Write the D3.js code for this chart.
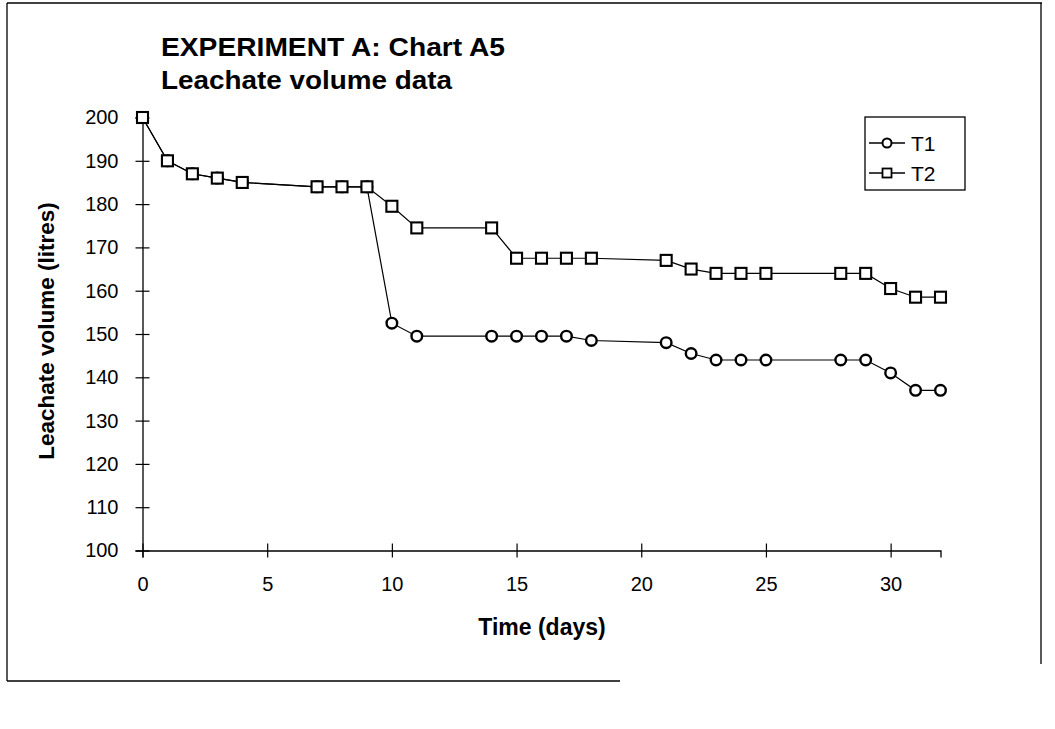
<!DOCTYPE html>
<html>
<head>
<meta charset="utf-8">
<script src="https://cdn.jsdelivr.net/npm/d3@7"></script>
<style>
  html, body { margin: 0; padding: 0; background: #fff; }
  svg { display: block; }
  text { font-family: "Liberation Sans", Arial, Helvetica, sans-serif; fill: #000; }
</style>
</head>
<body>
<svg id="chart" width="1055" height="729"></svg>
<script>
// Sampling days (same schedule for both treatments)
const days = [0, 1, 2, 3, 4, 7, 8, 9, 10, 11, 14, 15, 16, 17, 18, 21, 22, 23, 24, 25, 28, 29, 30, 31, 32];

// Leachate volume (litres) per treatment
const t1Volume = [200, 190, 187, 186, 185, 184, 184, 184, 152.5, 149.5, 149.5, 149.5, 149.5, 149.5, 148.5, 148, 145.5, 144, 144, 144, 144, 144, 141, 137, 137];
const t2Volume = [200, 190, 187, 186, 185, 184, 184, 184, 179.5, 174.5, 174.5, 167.5, 167.5, 167.5, 167.5, 167, 165, 164, 164, 164, 164, 164, 160.5, 158.5, 158.5];

const seriesNames = ["T1", "T2"];
const xTicks = [0, 5, 10, 15, 20, 25, 30];
const yTicks = [100, 110, 120, 130, 140, 150, 160, 170, 180, 190, 200];

const titleLines = ["EXPERIMENT A: Chart A5", "Leachate volume data"];
const xTitle = "Time (days)";
const yTitle = "Leachate volume (litres)";

const svg = d3.select("#chart");

// Page frame
const frame = svg.append("g").attr("stroke", "#000").attr("stroke-width", 1.3).attr("fill", "none");
frame.append("line").attr("x1", 7).attr("y1", 3).attr("x2", 1042).attr("y2", 3);
frame.append("line").attr("x1", 7).attr("y1", 3).attr("x2", 7).attr("y2", 681);
frame.append("line").attr("x1", 1041).attr("y1", 3).attr("x2", 1041).attr("y2", 664);
frame.append("line").attr("x1", 7).attr("y1", 681).attr("x2", 620).attr("y2", 681);

// Scales
const x = d3.scaleLinear().domain([0, 32]).range([142.5, 940.5]);
const y = d3.scaleLinear().domain([100, 200]).range([550.5, 117.5]);

// Title
const title = svg.append("g");
title.append("text").attr("x", 161).attr("y", 56)
  .attr("font-size", 25).attr("font-weight", "bold")
  .attr("textLength", 344).attr("lengthAdjust", "spacingAndGlyphs")
  .text(titleLines[0]);
title.append("text").attr("x", 161).attr("y", 89)
  .attr("font-size", 25).attr("font-weight", "bold")
  .attr("textLength", 291).attr("lengthAdjust", "spacingAndGlyphs")
  .text(titleLines[1]);

// Y axis with ticks crossing the axis line
const yAxis = svg.append("g")
  .attr("transform", `translate(${x(0)},0)`)
  .call(d3.axisLeft(y).tickValues(yTicks).tickSize(7).tickPadding(17).tickFormat(d3.format("d")));
yAxis.select(".domain").attr("stroke", "#000").attr("stroke-width", 1.3);
yAxis.selectAll(".tick line").attr("x1", 7).attr("x2", -7).attr("stroke", "#000").attr("stroke-width", 1.2);
yAxis.selectAll(".tick text").attr("font-size", 20).attr("font-family", "'Liberation Sans', Arial, sans-serif");

// X axis with ticks crossing the axis line
const xAxis = svg.append("g")
  .attr("transform", `translate(0,${y(100)})`)
  .call(d3.axisBottom(x).tickValues(xTicks).tickSize(7).tickPadding(19).tickFormat(d3.format("d")));
xAxis.select(".domain").attr("stroke", "#000").attr("stroke-width", 1.3);
xAxis.selectAll(".tick line").attr("y1", -7).attr("y2", 7).attr("stroke", "#000").attr("stroke-width", 1.2);
xAxis.selectAll(".tick text").attr("font-size", 20).attr("font-family", "'Liberation Sans', Arial, sans-serif");

// Axis titles
svg.append("text")
  .attr("transform", `translate(54,${331}) rotate(-90)`)
  .attr("text-anchor", "middle").attr("font-size", 22.5).attr("font-weight", "bold")
  .text(yTitle);
svg.append("text")
  .attr("x", 542).attr("y", 635).attr("text-anchor", "middle")
  .attr("font-size", 23).attr("font-weight", "bold")
  .text(xTitle);

// Series
const line = d3.line().x((d) => x(d[0])).y((d) => y(d[1]));
const t1 = days.map((d, i) => [d, t1Volume[i]]);
const t2 = days.map((d, i) => [d, t2Volume[i]]);

const plot = svg.append("g");
function drawLine(data) {
  plot.append("path").datum(data).attr("d", line)
    .attr("fill", "none").attr("stroke", "#000").attr("stroke-width", 1.2);
}
drawLine(t1);
drawLine(t2);

plot.selectAll("circle.t1").data(t1).join("circle")
  .attr("class", "t1")
  .attr("cx", (d) => x(d[0])).attr("cy", (d) => y(d[1])).attr("r", 5.3)
  .attr("fill", "#fff").attr("stroke", "#000").attr("stroke-width", 2.4);

const sq = 11;
plot.selectAll("rect.t2").data(t2).join("rect")
  .attr("class", "t2")
  .attr("x", (d) => x(d[0]) - sq / 2).attr("y", (d) => y(d[1]) - sq / 2)
  .attr("width", sq).attr("height", sq)
  .attr("fill", "#fff").attr("stroke", "#000").attr("stroke-width", 2.1);

// Legend
const legend = svg.append("g");
legend.append("rect").attr("x", 865).attr("y", 117).attr("width", 100).attr("height", 73)
  .attr("fill", "#fff").attr("stroke", "#000").attr("stroke-width", 1.3);
const rows = [143, 173];
seriesNames.forEach((name, i) => {
  const ry = rows[i];
  legend.append("line").attr("x1", 869).attr("x2", 905).attr("y1", ry).attr("y2", ry)
    .attr("stroke", "#000").attr("stroke-width", 1.3);
  if (i === 0) {
    legend.append("circle").attr("cx", 887).attr("cy", ry).attr("r", 4.5)
      .attr("fill", "#fff").attr("stroke", "#000").attr("stroke-width", 2);
  } else {
    legend.append("rect").attr("x", 882.5).attr("y", ry - 4.5).attr("width", 9).attr("height", 9)
      .attr("fill", "#fff").attr("stroke", "#000").attr("stroke-width", 1.8);
  }
  legend.append("text").attr("x", 911).attr("y", ry + 7.5)
    .attr("font-size", 21).text(name);
});
</script>
</body>
</html>
